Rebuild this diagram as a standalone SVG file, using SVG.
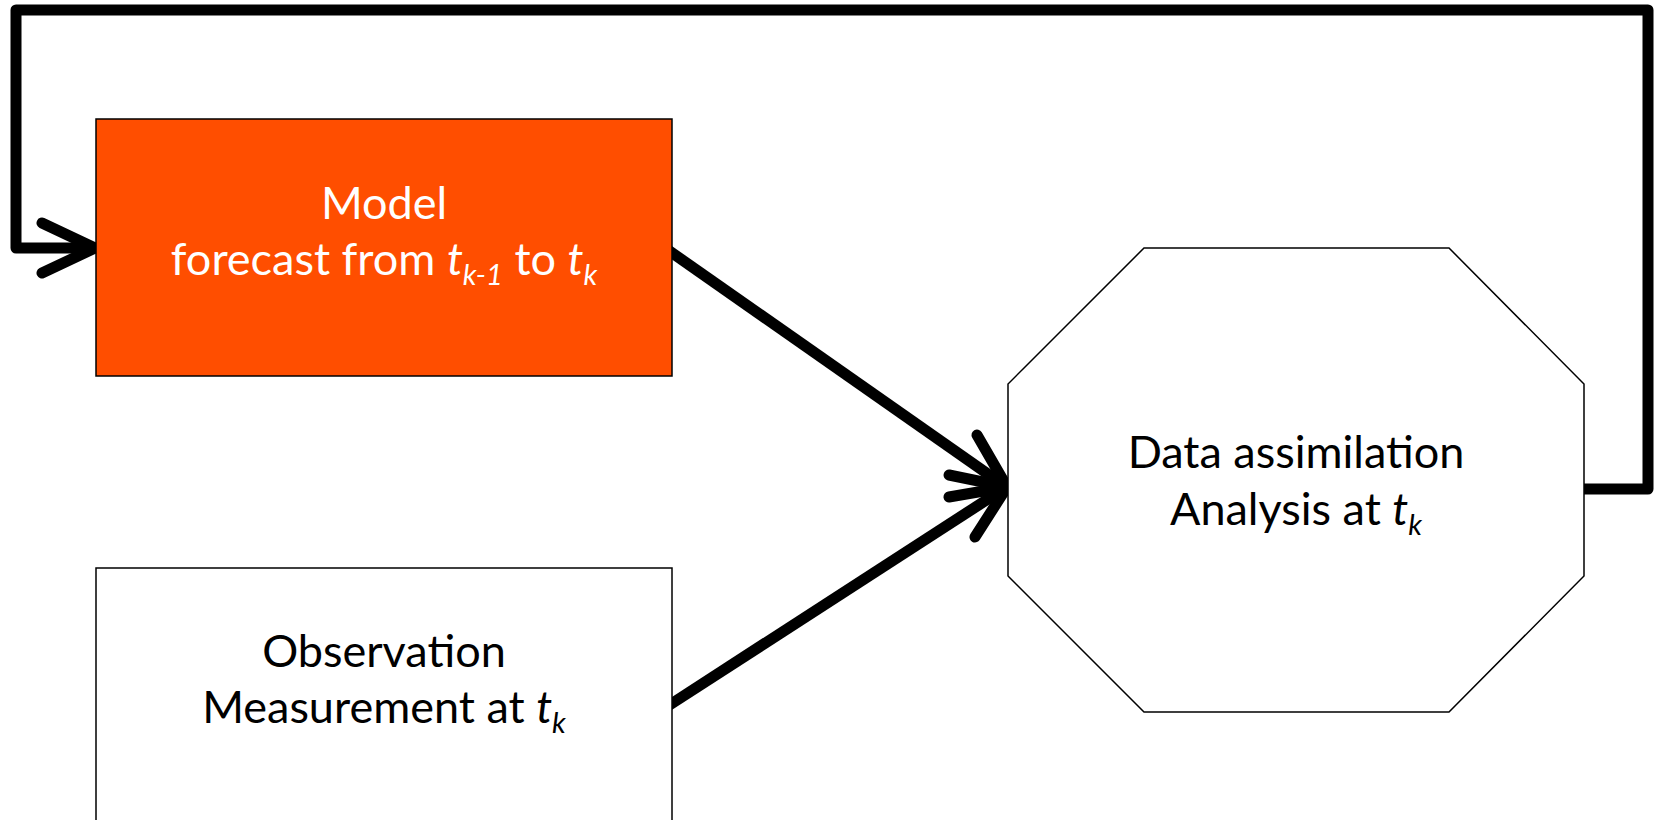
<svg xmlns="http://www.w3.org/2000/svg" width="1655" height="820" viewBox="0 0 1655 820">
  <style>
    .lbl { font-family: Lato, "Open Sans", "Liberation Sans", sans-serif; font-size: 45px; text-anchor: middle; }
    .white { fill: #ffffff; }
    .black { fill: #000000; }
    .it { font-style: italic; }
    .sub { font-style: italic; font-size: 29px; }
    .conn { fill: none; stroke: #000000; stroke-width: 11; stroke-linejoin: round; }
    .head { fill: none; stroke: #000000; stroke-width: 11; stroke-linecap: round; stroke-linejoin: miter; }
    .node { stroke: #000000; stroke-width: 1.5; }
  </style>
  <rect width="1655" height="820" fill="#ffffff"/>
  <g id="connectors">
    <path class="conn" d="M1584,489 H1648 V10 H16 V248 H95" />
    <polyline class="head" points="42,223 95,248 42,273" />
    <line class="conn" x1="668" y1="250" x2="1005" y2="486" />
    <polyline class="head" points="977,435 1007,487 949,475" />
    <line class="conn" x1="668" y1="706" x2="1005" y2="488" />
    <polyline class="head" points="949,497 1007,487 975,537" />
  </g>
  <g id="model">
    <rect class="node" x="96" y="119" width="576" height="257" fill="#FF4E00" />
    <text class="lbl white" x="384" y="219">Model</text>
    <text class="lbl white" x="384" y="275">forecast from <tspan class="it">t</tspan><tspan class="sub" dy="10">k-1</tspan><tspan dy="-10"> to </tspan><tspan class="it">t</tspan><tspan class="sub" dy="10">k</tspan></text>
  </g>
  <g id="observation">
    <rect class="node" x="96" y="568" width="576" height="270" fill="#ffffff" />
    <text class="lbl black" x="384" y="667">Observation</text>
    <text class="lbl black" x="384" y="723">Measurement at <tspan class="it">t</tspan><tspan class="sub" dy="10">k</tspan></text>
  </g>
  <g id="assimilation">
    <polygon class="node" fill="#ffffff" points="1144,248 1449,248 1584,384 1584,576 1449,712 1144,712 1008,576 1008,384" />
    <text class="lbl black" x="1296" y="468">Data assimilation</text>
    <text class="lbl black" x="1296" y="525">Analysis at <tspan class="it">t</tspan><tspan class="sub" dy="10">k</tspan></text>
  </g>
</svg>
